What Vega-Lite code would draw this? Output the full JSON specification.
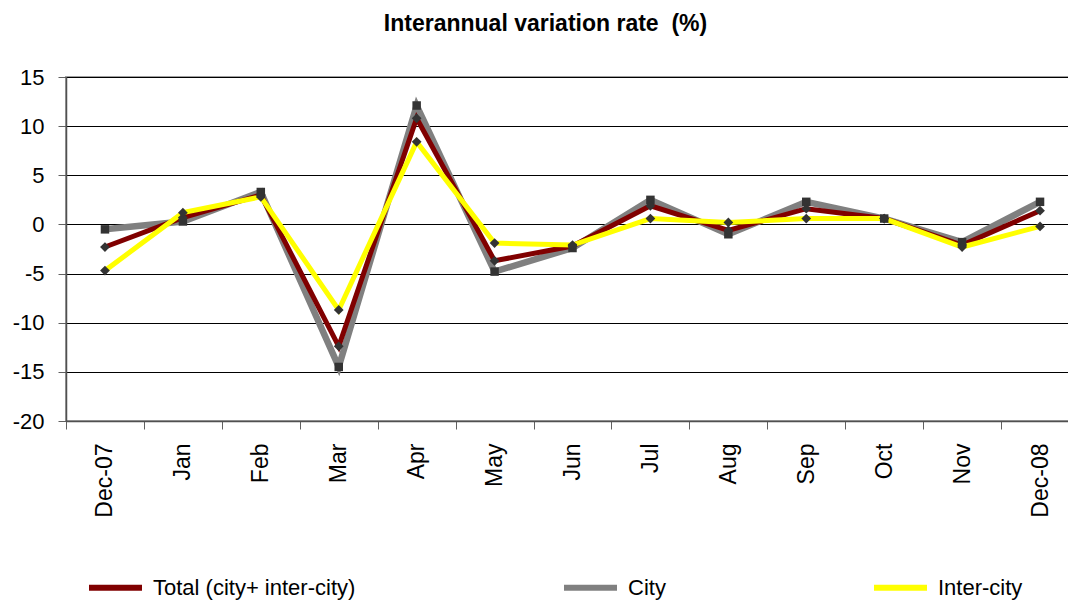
{
  "$schema": "https://vega.github.io/schema/vega-lite/v6.json",
  "width": 1013,
  "height": 344,
  "autosize": "none",
  "padding": {"left": 66, "top": 77, "right": 0, "bottom": 180},
  "background": "white",
  "config": {
    "font": "Liberation Sans",
    "view": {"stroke": "#a0a0a0", "strokeWidth": 2}
  },
  "title": {
    "text": "Interannual variation rate\u00a0\u00a0(%)",
    "fontSize": 23,
    "fontWeight": "bold",
    "font": "Liberation Sans",
    "color": "black",
    "offset": 30,
    "dx": -27,
    "anchor": "middle"
  },
  "data": {
    "values": [
      {"month": "Dec-07", "series": "Total (city+ inter-city)", "value": -2.3},
      {"month": "Jan", "series": "Total (city+ inter-city)", "value": 0.7},
      {"month": "Feb", "series": "Total (city+ inter-city)", "value": 3.0},
      {"month": "Mar", "series": "Total (city+ inter-city)", "value": -12.4},
      {"month": "Apr", "series": "Total (city+ inter-city)", "value": 10.8},
      {"month": "May", "series": "Total (city+ inter-city)", "value": -3.7},
      {"month": "Jun", "series": "Total (city+ inter-city)", "value": -2.2},
      {"month": "Jul", "series": "Total (city+ inter-city)", "value": 1.9},
      {"month": "Aug", "series": "Total (city+ inter-city)", "value": -0.6},
      {"month": "Sep", "series": "Total (city+ inter-city)", "value": 1.6},
      {"month": "Oct", "series": "Total (city+ inter-city)", "value": 0.6},
      {"month": "Nov", "series": "Total (city+ inter-city)", "value": -2.1},
      {"month": "Dec-08", "series": "Total (city+ inter-city)", "value": 1.4},
      {"month": "Dec-07", "series": "City", "value": -0.5},
      {"month": "Jan", "series": "City", "value": 0.3},
      {"month": "Feb", "series": "City", "value": 3.3},
      {"month": "Mar", "series": "City", "value": -14.5},
      {"month": "Apr", "series": "City", "value": 12.1},
      {"month": "May", "series": "City", "value": -4.8},
      {"month": "Jun", "series": "City", "value": -2.4},
      {"month": "Jul", "series": "City", "value": 2.5},
      {"month": "Aug", "series": "City", "value": -1.0},
      {"month": "Sep", "series": "City", "value": 2.3},
      {"month": "Oct", "series": "City", "value": 0.6},
      {"month": "Nov", "series": "City", "value": -1.8},
      {"month": "Dec-08", "series": "City", "value": 2.3},
      {"month": "Dec-07", "series": "Inter-city", "value": -4.7},
      {"month": "Jan", "series": "Inter-city", "value": 1.2},
      {"month": "Feb", "series": "Inter-city", "value": 2.8},
      {"month": "Mar", "series": "Inter-city", "value": -8.7},
      {"month": "Apr", "series": "Inter-city", "value": 8.4},
      {"month": "May", "series": "Inter-city", "value": -1.9},
      {"month": "Jun", "series": "Inter-city", "value": -2.1},
      {"month": "Jul", "series": "Inter-city", "value": 0.6},
      {"month": "Aug", "series": "Inter-city", "value": 0.2},
      {"month": "Sep", "series": "Inter-city", "value": 0.6},
      {"month": "Oct", "series": "Inter-city", "value": 0.6},
      {"month": "Nov", "series": "Inter-city", "value": -2.3},
      {"month": "Dec-08", "series": "Inter-city", "value": -0.2}
    ]
  },
  "encoding": {
    "x": {
      "field": "month",
      "type": "ordinal",
      "sort": ["Dec-07", "Jan", "Feb", "Mar", "Apr", "May", "Jun", "Jul", "Aug", "Sep", "Oct", "Nov", "Dec-08"],
      "bandPosition": 0.5,
      "scale": {"type": "band", "paddingInner": 0, "paddingOuter": 0},
      "axis": {
        "title": null,
        "labelAngle": -90,
        "labelAlign": "right",
        "labelBaseline": "middle",
        "labelFontSize": 23,
        "labelColor": "black",
        "labelPadding": 14,
        "tickBand": "extent",
        "tickSize": 8,
        "tickColor": "#606060",
        "domainColor": "#505050",
        "domainWidth": 1.5,
        "grid": false
      }
    },
    "y": {
      "field": "value",
      "type": "quantitative",
      "scale": {"domain": [-20, 15], "nice": false, "zero": false},
      "axis": {
        "title": null,
        "values": [-20, -15, -10, -5, 0, 5, 10, 15],
        "labelExpr": "datum.value + ''",
        "labelFontSize": 22,
        "labelColor": "black",
        "labelPadding": 14,
        "tickSize": 8,
        "tickColor": "#606060",
        "domainColor": "#505050",
        "domainWidth": 1.5,
        "grid": true,
        "gridColor": "black",
        "gridWidth": 1
      }
    }
  },
  "layer": [
    {
      "transform": [{"filter": "datum.series === 'City'"}],
      "mark": {"type": "line", "strokeWidth": 6.5},
      "encoding": {
        "color": {
          "field": "series",
          "type": "nominal",
          "scale": {
            "domain": ["Total (city+ inter-city)", "City", "Inter-city"],
            "range": ["#800000", "#808080", "#FFFF00"]
          },
          "legend": {
            "title": null,
            "orient": "none",
            "legendX": 20,
            "legendY": 481,
            "direction": "horizontal",
            "symbolType": "stroke",
            "symbolStrokeWidth": 6,
            "symbolSize": 2809,
            "labelFontSize": 22,
            "labelColor": "black",
            "labelOffset": 8,
            "columnPadding": 196,
            "labelLimit": 400
          }
        }
      }
    },
    {
      "transform": [{"filter": "datum.series === 'Total (city+ inter-city)'"}],
      "mark": {"type": "line", "strokeWidth": 5},
      "encoding": {"color": {"field": "series", "type": "nominal"}}
    },
    {
      "transform": [{"filter": "datum.series === 'Inter-city'"}],
      "mark": {"type": "line", "strokeWidth": 5},
      "encoding": {"color": {"field": "series", "type": "nominal"}}
    },
    {
      "transform": [{"filter": "datum.series === 'City'"}],
      "mark": {"type": "point", "shape": "square", "filled": true, "color": "#333333", "opacity": 1, "size": 72}
    },
    {
      "transform": [{"filter": "datum.series !== 'City'"}],
      "mark": {"type": "point", "shape": "diamond", "filled": true, "color": "#333333", "opacity": 1, "size": 95}
    }
  ]
}
